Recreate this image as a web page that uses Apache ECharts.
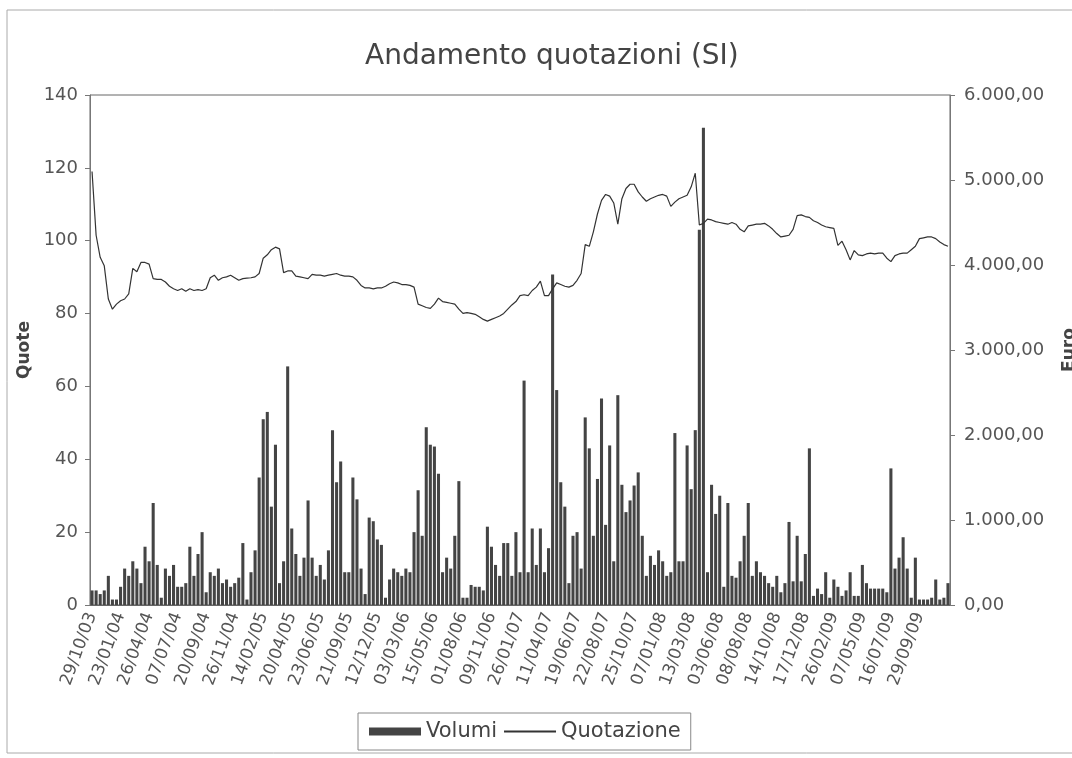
<!DOCTYPE html>
<html>
<head>
<meta charset="utf-8">
<title>Andamento quotazioni (SI)</title>
<script src="https://cdn.jsdelivr.net/npm/echarts@6.0.0/dist/echarts.min.js"></script>
<style>
  html, body { margin: 0; padding: 0; background: #fff; }
  #chart { width: 1072px; height: 758px; }
</style>
</head>
<body>
<div id="chart"></div>
<script>
// date labels shown under the x axis (one every STEP points)
const tickLabels = ['29/10/03', '23/01/04', '26/04/04', '07/07/04', '20/09/04', '26/11/04', '14/02/05', '20/04/05',
  '23/06/05', '21/09/05', '12/12/05', '03/03/06', '15/05/06', '01/08/06', '09/11/06', '26/01/07', '11/04/07',
  '19/06/07', '22/08/07', '25/10/07', '07/01/08', '13/03/08', '03/06/08', '08/08/08', '14/10/08', '17/12/08',
  '26/02/09', '07/05/09', '16/07/09', '29/09/09']

// Volumi (left axis, Quote)
const volumi = [
  4, 4, 3, 4, 8, 1.5, 1.5, 5, 10, 8, 12, 10, 6, 16, 12, 28, 11, 2, 10, 8,
  11, 5, 5, 6, 16, 8, 14, 20, 3.5, 9, 8, 10, 6, 7, 5, 6, 7.5, 17, 1.5, 9,
  15, 35, 51, 53, 27, 44, 6, 12, 65.5, 21, 14, 8, 13, 28.7, 13, 8, 11, 7, 15, 48,
  33.7, 39.4, 9, 9, 35, 29, 10, 3, 24, 23, 18, 16.5, 2, 7, 10, 9, 8, 10, 9, 20,
  31.5, 19, 48.8, 44, 43.5, 36, 9, 13, 10, 19, 34, 2, 2, 5.5, 5, 5, 4, 21.5, 16, 11,
  8, 17, 17, 8, 20, 9, 61.6, 9, 21, 11, 21, 9, 15.6, 90.7, 59, 33.7, 27, 6, 19, 20,
  10, 51.5, 43, 19, 34.6, 56.7, 22, 43.8, 12, 57.6, 33, 25.5, 28.7, 32.8, 36.4, 19, 8, 13.5, 11, 15,
  12, 8, 9, 47.2, 12, 12, 43.8, 31.8, 48, 103, 131, 9, 33, 25, 30, 5, 28, 8, 7.5, 12,
  19, 28, 8, 12, 9, 8, 6, 5, 8, 3.5, 6, 22.8, 6.5, 19, 6.5, 14, 43, 2.5, 4.5, 3,
  9, 2, 7, 5, 2.5, 4, 9, 2.5, 2.5, 11, 6, 4.5, 4.5, 4.5, 4.5, 3.5, 37.5, 10, 13, 18.6,
  10, 2, 13, 1.5, 1.5, 1.5, 2, 7, 1.5, 2, 6
]

// Quotazione (right axis, Euro)
const quotazione = [
  5100, 4350, 4090, 3990, 3600, 3480, 3540, 3580, 3600, 3660, 3960, 3920, 4030, 4030, 4010, 3840, 3830, 3830, 3800, 3750,
  3720, 3700, 3720, 3690, 3720, 3700, 3710, 3700, 3720, 3850, 3880, 3820, 3850, 3860, 3880, 3850, 3820, 3840, 3845, 3850,
  3860, 3900, 4080, 4120, 4180, 4210, 4190, 3910, 3930, 3930, 3870, 3860, 3850, 3840, 3890, 3880, 3880, 3870, 3880, 3890,
  3900, 3880, 3870, 3870, 3860, 3820, 3760, 3730, 3730, 3720, 3730, 3730, 3750, 3780, 3800, 3790, 3770, 3770, 3760, 3740,
  3540, 3520, 3500, 3490, 3540, 3610, 3570, 3560, 3550, 3540, 3480, 3430, 3440, 3430, 3420, 3390, 3360, 3340, 3360, 3380,
  3400, 3430, 3480, 3530, 3570, 3640, 3650, 3640, 3700, 3740, 3810, 3640, 3640, 3720, 3790, 3770, 3750, 3740, 3760, 3820,
  3900, 4240, 4220, 4390, 4600, 4760, 4830, 4810, 4730, 4480, 4780, 4900, 4950, 4950, 4860, 4800, 4750, 4780, 4800, 4820,
  4830, 4810, 4690, 4740, 4780, 4800, 4820, 4920, 5080, 4470, 4490, 4540, 4530, 4510, 4500, 4490, 4480, 4500, 4480, 4420,
  4390, 4460, 4470, 4480, 4480, 4490, 4460, 4420, 4370, 4330, 4340, 4350, 4420, 4580, 4590, 4570, 4560, 4520, 4500, 4470,
  4450, 4440, 4430, 4230, 4280, 4180, 4060, 4170, 4120, 4110, 4130, 4140, 4130, 4140, 4140, 4080, 4040, 4110, 4130, 4140,
  4140, 4180, 4220, 4310, 4320, 4330, 4330, 4310, 4270, 4240, 4220
]

const STEP = 7
const categories = volumi.map((v, i) => (i % STEP === 0 && tickLabels[i / STEP]) || '')

// 6.000,00 style
function euro(v) {
  const parts = v.toFixed(2).split('.')
  return parts[0].replace(/\B(?=(\d{3})+(?!\d))/g, '.') + ',' + parts[1]
}

const font = 'DejaVu Sans'
const chart = echarts.init(document.getElementById('chart'))

chart.setOption({
  animation: false,
  backgroundColor: '#fff',
  textStyle: { fontFamily: font },
  graphic: [{
    type: 'rect',
    shape: { x: 7, y: 10, width: 1100, height: 743 },
    style: { fill: 'none', stroke: '#aaa', lineWidth: 1 },
    silent: true
  }],
  title: {
    text: 'Andamento quotazioni (SI)',
    left: 360,
    top: 38,
    textStyle: { fontFamily: font, fontSize: 28, fontWeight: 'normal', color: '#444' }
  },
  legend: {
    left: 358,
    top: 713,
    padding: [8, 10, 8, 11],
    itemGap: 6,
    itemWidth: 52,
    itemHeight: 8,
    borderColor: '#888',
    borderWidth: 1,
    textStyle: { fontFamily: font, fontSize: 21, color: '#444' },
    data: [
      { name: 'Volumi', icon: 'rect' },
      { name: 'Quotazione', itemStyle: { opacity: 0 } }
    ]
  },
  grid: {
    left: 90,
    right: 122,
    top: 95,
    bottom: 153,
    outerBoundsMode: 'none',
    show: true,
    borderColor: '#666',
    borderWidth: 1
  },
  xAxis: {
    type: 'category',
    data: categories,
    axisLine: { lineStyle: { color: '#666' } },
    axisTick: { show: false },
    axisLabel: {
      interval: STEP - 1,
      rotate: 70,
      margin: 8,
      fontSize: 17,
      color: '#555',
      fontFamily: font
    }
  },
  yAxis: [
    {
      type: 'value',
      name: 'Quote',
      nameLocation: 'middle',
      nameRotate: 90,
      nameGap: 52,
      nameTextStyle: { fontSize: 17, fontWeight: 'bold', color: '#444', fontFamily: font },
      min: 0,
      max: 140,
      interval: 20,
      axisLine: { show: true, lineStyle: { color: '#777' } },
      axisTick: { show: true, length: 5, lineStyle: { color: '#777' } },
      axisLabel: { fontSize: 18, color: '#555', margin: 12, fontFamily: font },
      splitLine: { show: false }
    },
    {
      type: 'value',
      name: 'Euro',
      nameLocation: 'middle',
      nameRotate: 90,
      nameGap: 111,
      nameTextStyle: { fontSize: 17, fontWeight: 'bold', color: '#444', fontFamily: font },
      min: 0,
      max: 6000,
      interval: 1000,
      axisLine: { show: true, lineStyle: { color: '#777' } },
      axisTick: { show: true, length: 5, lineStyle: { color: '#777' } },
      axisLabel: { fontSize: 18, color: '#555', margin: 14, fontFamily: font, formatter: euro },
      splitLine: { show: false }
    }
  ],
  series: [
    {
      name: 'Volumi',
      type: 'bar',
      yAxisIndex: 0,
      data: volumi,
      barCategoryGap: '25%',
      itemStyle: { color: '#444' }
    },
    {
      name: 'Quotazione',
      type: 'line',
      yAxisIndex: 1,
      data: quotazione,
      symbol: 'none',
      lineStyle: { color: '#333', width: 1.2 },
      itemStyle: { color: '#333' }
    }
  ]
})
</script>
</body>
</html>
